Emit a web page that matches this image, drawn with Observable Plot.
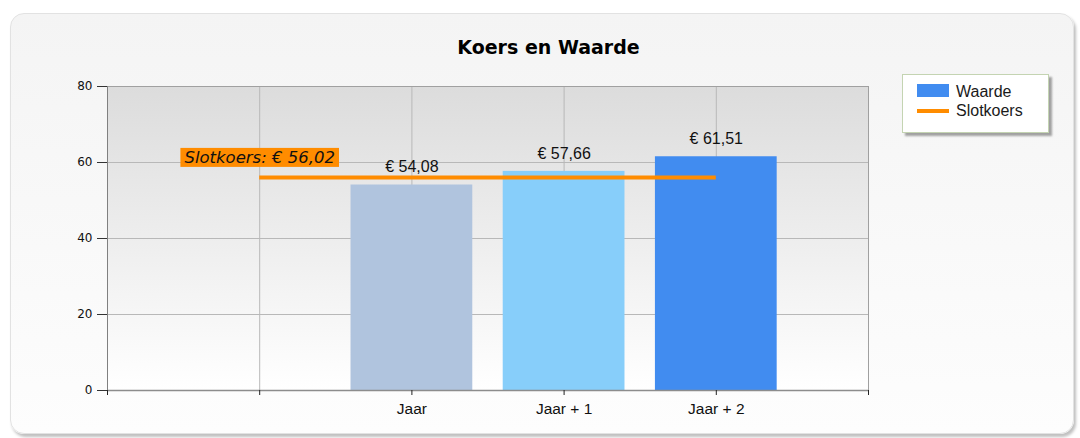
<!DOCTYPE html>
<html><head><meta charset="utf-8">
<script src="https://cdn.jsdelivr.net/npm/d3@7"></script>
<script src="https://cdn.jsdelivr.net/npm/@observablehq/plot@0.6"></script>
<style>
body{margin:0;background:#fff;}
#wrap{position:relative;width:1080px;height:438px;overflow:hidden;background:#fff;}
#panel{position:absolute;left:10px;top:13px;width:1062px;height:419px;border-radius:14px;background:linear-gradient(#f4f4f4,#fdfdfd);border:1px solid #e2e2e2;box-shadow:2px 3px 3px rgba(0,0,0,0.25);}
#title{position:absolute;left:0;width:1097px;top:38px;line-height:19px;text-align:center;font-family:"DejaVu Sans";font-weight:bold;font-size:19px;color:#000;}
#chart{position:absolute;left:0;top:0;}
#legend{position:absolute;left:902px;top:74px;width:145px;height:57px;border:1px solid #c4d4b2;background:#fff;box-shadow:3px 3px 2px rgba(0,0,0,0.35);font-family:"Liberation Sans";font-size:16px;line-height:16px;color:#1a1a1a;}
.sw{position:absolute;left:14px;width:32px;}
.lt{position:absolute;left:53px;white-space:nowrap;}
</style></head>
<body>
<svg width="0" height="0" style="position:absolute"><defs>
<linearGradient id="plotbg" x1="0" y1="0" x2="0" y2="1">
<stop offset="0" stop-color="#dcdcdc"/><stop offset="1" stop-color="#ffffff"/>
</linearGradient></defs></svg>
<div id="wrap">
  <div id="panel"></div>
  <div id="chart"></div>
  <div id="title">Koers en Waarde</div>
  <div id="legend">
    <div class="sw" style="top:9px;height:13px;background:#418CF0"></div>
    <div class="lt" style="top:8.5px">Waarde</div>
    <div class="sw" style="top:34px;height:4px;background:#FF8C00"></div>
    <div class="lt" style="top:27.5px">Slotkoers</div>
  </div>
</div>
<script>
const categories = ["Jaar", "Jaar + 1", "Jaar + 2"];
const catPositions = [2, 3, 4];
const waarde = [54.08, 57.66, 61.51];
const barColors = ["#B0C4DE", "#87CEFA", "#418CF0"];
const slotkoers = 56.02;
const slotkoersSpan = [1, 4];
const yTicks = [0, 20, 40, 60, 80];
const xTicks = [0, 1, 2, 3, 4, 5];

const bars = categories.map((c, i) => ({cat: c, pos: catPositions[i], value: waarde[i], color: barColors[i]}));
const fmt = v => "€ " + v.toFixed(2).replace(".", ",");
const xLabel = v => { const i = catPositions.indexOf(v); return i >= 0 ? categories[i] : ""; };
const labelText = "Slotkoers: " + fmt(slotkoers);

const svg = Plot.plot({
  width: 1080, height: 438,
  marginLeft: 107, marginRight: 212, marginTop: 86, marginBottom: 48,
  style: {background: "transparent", overflow: "visible"},
  x: {type: "linear", domain: [0, 5]},
  y: {domain: [0, 80]},
  color: {type: "identity"},
  marks: [
    Plot.frame({fill: "url(#plotbg)", stroke: null}),
    Plot.gridY(yTicks.slice(1, -1), {stroke: "#b8b8b8", strokeOpacity: 1}),
    Plot.gridX(xTicks.slice(1, -1), {stroke: "#b8b8b8", strokeOpacity: 1}),
    Plot.ruleY([yTicks[yTicks.length - 1]], {stroke: "#a0a0a0"}),
    Plot.ruleX([xTicks[xTicks.length - 1]], {stroke: "#a0a0a0"}),
    Plot.ruleX([xTicks[0]], {stroke: "#808080"}),
    Plot.rectY(bars, {x1: d => d.pos - 0.4, x2: d => d.pos + 0.4, y1: 0, y2: "value", fill: d => d.color}),
    Plot.ruleY([0], {stroke: "#8c8c8c", strokeWidth: 1.5}),
    Plot.axisY(yTicks, {tickSize: 10, tickPadding: 5, stroke: "#333", fill: "#111", label: null}),
    Plot.axisX(xTicks, {tickSize: 5, tickPadding: 7, stroke: "#222", fill: "#111", tickFormat: xLabel, label: null}),
    Plot.ruleY([slotkoers], {x1: slotkoersSpan[0], x2: slotkoersSpan[1], stroke: "#FF8C00", strokeWidth: 4}),
    Plot.text(bars, {x: "pos", y: "value", text: d => fmt(d.value), dy: -18, fontSize: 16, fontFamily: "Liberation Sans", fill: "#111"}),
    Plot.text([slotkoers], {x: slotkoersSpan[0], y: d => d, text: () => labelText, dy: -20, fontSize: 16.5, fontFamily: "DejaVu Sans", fontStyle: "italic", fill: "#111"})
  ]
});
document.getElementById("chart").appendChild(svg);

// axis label fonts
const yLabels = yTicks.map(String);
const xLabels = categories;
svg.querySelectorAll("text").forEach(t => {
  const s = t.textContent;
  if (yLabels.includes(s)) {
    t.style.fontFamily = "DejaVu Sans"; t.style.fontSize = "12px";
  } else if (xLabels.includes(s)) {
    t.style.fontFamily = "Liberation Sans"; t.style.fontSize = "15.5px";
  }
});

// orange background box behind the Slotkoers label
svg.querySelectorAll("text").forEach(t => {
  if (t.textContent !== labelText) return;
  const bb = t.getBBox();
  const r = document.createElementNS("http://www.w3.org/2000/svg", "rect");
  r.setAttribute("x", bb.x - 4);
  r.setAttribute("y", bb.y);
  r.setAttribute("width", bb.width + 8);
  r.setAttribute("height", bb.height);
  r.setAttribute("fill", "#FF8C00");
  const tr = t.getAttribute("transform");
  if (tr) r.setAttribute("transform", tr);
  t.parentNode.insertBefore(r, t);
});
</script>
</body></html>
